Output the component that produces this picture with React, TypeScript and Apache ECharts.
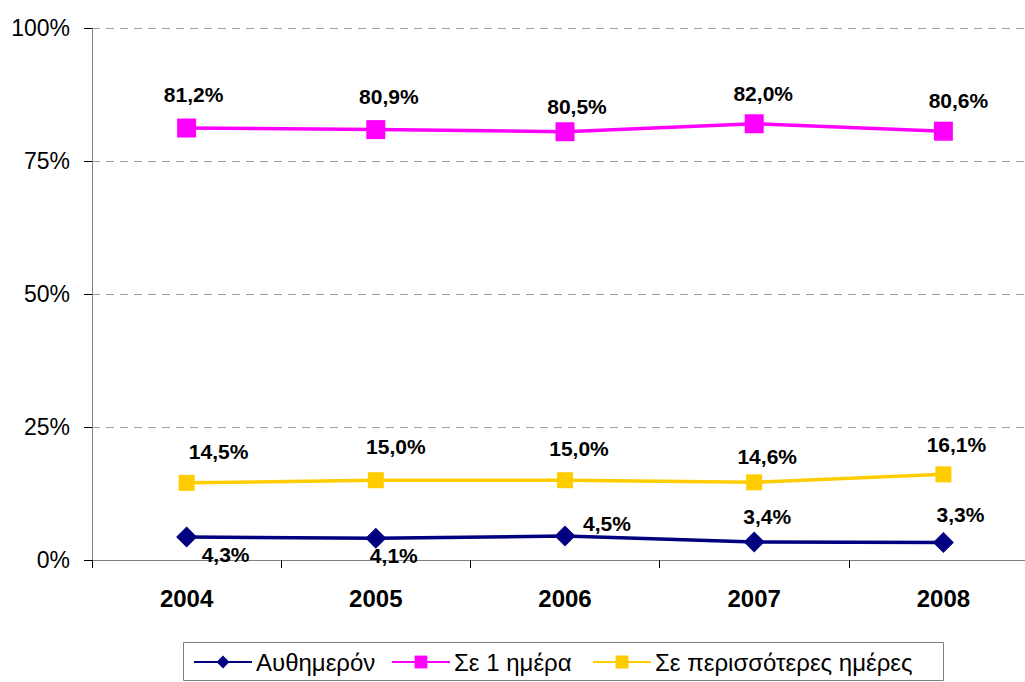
import React, { useEffect, useRef } from "react";
import * as echarts from "echarts";

const years = ["2004", "2005", "2006", "2007", "2008"];
const seriesNames = ["Αυθημερόν", "Σε 1 ημέρα", "Σε περισσότερες ημέρες"];
const sameDay = [4.3, 4.1, 4.5, 3.4, 3.3];
const oneDay = [81.2, 80.9, 80.5, 82.0, 80.6];
const moreDays = [14.5, 15.0, 15.0, 14.6, 16.1];
const yTicks = [0, 25, 50, 75, 100];

// label offsets (style only) relative to each marker centre
const sameDayOffsets = [[39, 17], [18, 17], [42, -13], [13, -25], [17, -28]];
const oneDayOffsets = [[7, -34], [13, -33], [12, -25], [9, -30], [15, -31]];
const moreDaysOffsets = [[32, -31], [20, -34], [14, -32], [13, -26], [13, -30]];
const legendLefts = [193, 391, 592];

const FONT = "Arial, 'Liberation Sans', sans-serif";

const fmt = (v: number) => v.toFixed(1).replace(".", ",") + "%";

function buildData(values: number[], offsets: number[][]) {
  return values.map((v, i) => ({
    value: v,
    label: { offset: offsets[i] },
  }));
}

export default function App() {
  const ref = useRef<HTMLDivElement>(null);
  useEffect(() => {
    if (!ref.current) return;
    const chart = echarts.init(ref.current, null, { renderer: "svg" });
    const labelBase = {
      show: true,
      position: "inside",
      align: "center",
      verticalAlign: "middle",
      color: "#000",
      fontFamily: FONT,
      fontWeight: "bold",
      fontSize: 21,
      formatter: (p: any) => fmt(p.value),
    };
    chart.setOption({
      animation: false,
      backgroundColor: "#fff",
      textStyle: { fontFamily: FONT },
      grid: { left: 92, right: 0, top: 28, bottom: 122, containLabel: false },
      graphic: [
        {
          type: "rect",
          shape: { x: 183.5, y: 642.5, width: 760, height: 38 },
          style: { fill: "none", stroke: "#808080", lineWidth: 1 },
          silent: true,
        },
      ],
      legend: seriesNames.map((n, i) => ({
        data: [n],
        left: legendLefts[i],
        top: 650,
        padding: 0,
        orient: "horizontal",
        itemWidth: 58,
        itemHeight: 16,
        textStyle: { fontFamily: FONT, fontSize: 24, color: "#000", padding: [0, 0, 0, -1] },
      })),
      xAxis: {
        type: "category",
        data: years,
        boundaryGap: true,
        axisLine: { lineStyle: { color: "#808080", width: 1 } },
        axisTick: { show: true, length: 8, alignWithLabel: false, lineStyle: { color: "#000" } },
        axisLabel: {
          fontFamily: FONT,
          fontWeight: "bold",
          fontSize: 24,
          color: "#000",
          margin: 26,
        },
        splitLine: { show: false },
      },
      yAxis: {
        type: "value",
        min: 0,
        max: 100,
        interval: 25,
        axisLine: { show: true, lineStyle: { color: "#808080", width: 1 } },
        axisTick: { show: true, length: 8, lineStyle: { color: "#000" } },
        axisLabel: {
          fontFamily: FONT,
          fontSize: 23,
          color: "#000",
          margin: 22,
          formatter: (v: number) => (yTicks.includes(v) ? v + "%" : ""),
        },
        splitLine: {
          show: true,
          lineStyle: { color: "#a0a0a0", type: [8, 6], width: 1 },
        },
      },
      series: [
        {
          name: seriesNames[0],
          type: "line",
          data: buildData(sameDay, sameDayOffsets),
          symbol: "diamond",
          symbolSize: 21,
          color: "#000080",
          lineStyle: { color: "#000080", width: 3.5 },
          itemStyle: { color: "#000080" },
          label: labelBase,
          z: 3,
        },
        {
          name: seriesNames[1],
          type: "line",
          data: buildData(oneDay, oneDayOffsets),
          symbol: "rect",
          symbolSize: 19,
          color: "#FF00FF",
          lineStyle: { color: "#FF00FF", width: 3.5 },
          itemStyle: { color: "#FF00FF" },
          label: labelBase,
          z: 3,
        },
        {
          name: seriesNames[2],
          type: "line",
          data: buildData(moreDays, moreDaysOffsets),
          symbol: "rect",
          symbolSize: 16,
          color: "#FFCC00",
          lineStyle: { color: "#FFCC00", width: 3.5 },
          itemStyle: { color: "#FFCC00" },
          label: labelBase,
          z: 3,
        },
      ],
    });
    return () => chart.dispose();
  }, []);
  return (
    <div
      ref={ref}
      style={{ position: "fixed", left: 0, top: 0, width: 1038, height: 682, background: "#fff" }}
    />
  );
}
